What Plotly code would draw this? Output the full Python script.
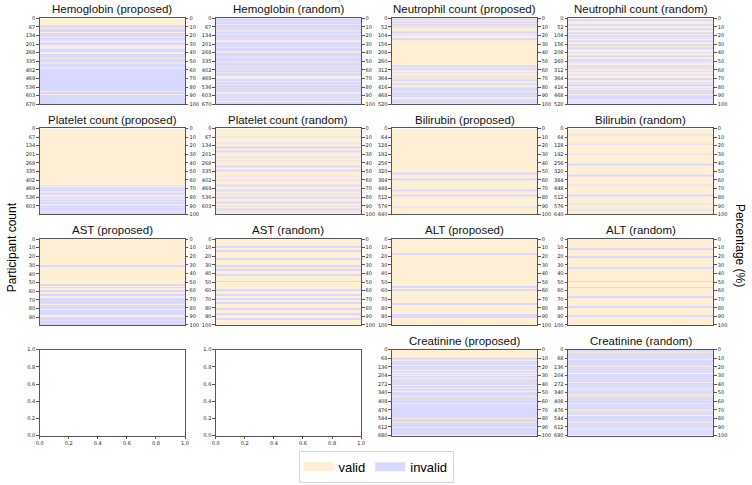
import plotly.graph_objects as go

W, H = 752, 485
VALID_COLOR = "#FFEFD5"
INVALID_COLOR = "#D9D9FF"

# ---- data: panels in grid order (row-major, 4x4) ----
panel_titles = [
    "Hemoglobin (proposed)", "Hemoglobin (random)", "Neutrophil count (proposed)", "Neutrophil count (random)",
    "Platelet count (proposed)", "Platelet count (random)", "Bilirubin (proposed)", "Bilirubin (random)",
    "AST (proposed)", "AST (random)", "ALT (proposed)", "ALT (random)",
    None, None, "Creatinine (proposed)", "Creatinine (random)",
]
participant_counts = [670, 670, 520, 520, 669, 669, 640, 640, 99, 100, 100, 100, None, None, 680, 680]
# base state of each panel; spans (percent of participants) hold the other state
panel_base = ["valid", "invalid", "valid", "valid",
              "valid", "valid", "valid", "valid",
              "valid", "valid", "valid", "valid",
              None, None, "valid", "valid"]

hb_proposed_invalid = [[8.5, 10], [10.8, 11.5], [12.5, 16], [17, 21.5], [22.5, 26], [28, 31.5], [35, 39.5],
                       [41.5, 46], [47, 51.5], [52.5, 57], [58, 84.5], [85.5, 88], [89, 100]]
hb_random_valid = [[3.5, 4.2], [6.5, 7.3], [11.5, 12.3], [14.3, 15], [18.7, 19.4], [23.8, 24.5], [25.5, 27.5],
                   [31.6, 32.3], [33.7, 34.4], [38.3, 40], [44.6, 45.3], [50.6, 51.3], [55.5, 56.2], [58.6, 59.3],
                   [62.8, 63.5], [67.5, 70], [73.3, 74], [76.6, 77.3], [80.6, 81.3], [83.6, 84.3], [86, 87.8],
                   [90.6, 91.3], [93.3, 94], [96.6, 97.3]]
neut_proposed_invalid = [[1, 1.5], [3.5, 5], [7.5, 8.8], [11, 11.6], [15.3, 16.5], [19, 19.5], [23.8, 25],
                         [55.5, 56.3], [59, 60], [63, 64], [66.5, 67.5], [69, 69.7], [72, 72.8], [76, 78],
                         [80.5, 81.5], [83, 84], [86.5, 87.5], [88.5, 89.5], [90.5, 91.5], [94.5, 95.5], [97.5, 98.5]]
neut_random_invalid = [[2.2, 2.8], [8, 9.2], [12.7, 13.3], [17.2, 17.8], [20.7, 21.3], [23.7, 24.3], [26.7, 27.3],
                       [30.5, 31.5], [34.7, 35.3], [39.6, 40.4], [43.7, 44.3], [48.6, 49.4], [51.7, 52.3], [55, 56.2],
                       [58.2, 58.8], [62.2, 62.8], [65.7, 66.3], [70.6, 71.4], [74.7, 75.3], [77.7, 78.3],
                       [81.6, 82.4], [84.7, 85.3], [87.2, 87.8], [90.2, 90.8], [92.6, 93.4], [95.7, 96.3], [98.2, 98.8]]
plt_proposed_invalid = [[67, 67.5], [69.5, 71], [72, 73], [75.5, 77.5], [79.5, 81.5], [83, 84], [85.5, 88.5],
                        [89.3, 92], [93, 93.5], [95, 96.5], [97.5, 100]]
plt_random_invalid = [[9.7, 10.4], [16.7, 17.4], [21.7, 22.4], [26.7, 27.4], [32.7, 33.4], [37.7, 38.4],
                      [43.6, 44.5], [48.7, 49.4], [54.7, 55.4], [59.7, 60.4], [65.7, 66.4], [71.7, 72.4],
                      [75.7, 76.4], [79.8, 81.2], [85.7, 86.4], [89.7, 90.4], [93.7, 94.4], [96.7, 97.4]]
bili_proposed_invalid = [[52, 52.4], [59, 59.4], [72, 72.4], [77.5, 78], [91, 91.5]]
bili_random_invalid = [[7.5, 8], [17.5, 18], [29.5, 30], [41.5, 42], [54.5, 55], [65.5, 66], [77.5, 78],
                       [87.5, 88], [94.5, 95]]
ast_proposed_invalid = [[31, 32], [53, 54], [56, 57], [60, 62], [65, 66], [69, 71], [72, 73], [74, 75], [77, 79],
                        [80, 81], [83, 84], [85, 86], [87, 88], [91, 92], [93, 95], [96, 97], [98, 100]]
ast_random_invalid = [[9, 10], [13, 14], [23, 24], [31, 33], [36, 37], [41, 42], [49, 50], [59, 60], [65, 66],
                      [69, 70], [74, 75], [81, 82], [87, 88], [93, 94]]
alt_proposed_invalid = [[17, 18], [55, 56], [59, 60], [75, 76], [88, 89], [90, 91]]
alt_random_invalid = [[11, 12], [20, 21], [33, 34], [49, 50], [56, 57], [67, 68], [79, 80], [89, 90]]
creat_proposed_invalid = [[10, 11], [13, 14.5], [16, 17], [19, 20.5], [22, 23], [25, 26.5], [28, 29], [30.5, 32],
                          [34, 35], [37, 38], [39.5, 41], [43, 44], [46, 47.5], [49, 50.5], [52, 53], [55, 56],
                          [57.5, 59], [60.5, 62], [63.5, 64.5], [66, 67], [68, 79.5], [80.5, 84.5], [85.5, 90],
                          [91, 100]]
creat_random_invalid = [[1, 2.5], [4, 5], [6.5, 8], [9, 10.5], [12, 13], [14.5, 16], [17, 18.5], [20, 21],
                        [22.5, 24], [25.5, 26.5], [28, 29.5], [31, 32], [33, 34.5], [36, 37.5], [39, 40],
                        [41.5, 43], [44, 45.5], [47, 48], [49.5, 51], [52.5, 53.5], [55, 56.5], [58, 59],
                        [60.5, 62], [63, 64.5], [66, 67], [68.5, 70], [71.5, 72.5], [74, 75.5], [77, 78],
                        [79.5, 81], [82.5, 83.5], [85, 86.5], [88, 89], [90.5, 92], [93.5, 94.5], [96, 97.5],
                        [98.5, 100]]

panel_spans = [hb_proposed_invalid, hb_random_valid, neut_proposed_invalid, neut_random_invalid,
               plt_proposed_invalid, plt_random_invalid, bili_proposed_invalid, bili_random_invalid,
               ast_proposed_invalid, ast_random_invalid, alt_proposed_invalid, alt_random_invalid,
               None, None, creat_proposed_invalid, creat_random_invalid]

percent_ticks = [0, 10, 20, 30, 40, 50, 60, 70, 80, 90, 100]
empty_ticks = [0.0, 0.2, 0.4, 0.6, 0.8, 1.0]

# ---- layout geometry (pixels) ----
col_left = [36, 214, 392, 570]
col_width = 147
row_top = [15.5, 127, 239, 351]
row_height = 87

TICK_FONT = dict(family="DejaVu Sans", size=5, color="#222")
LINE = "#555"


def build_runs(base, spans):
    other = "invalid" if base == "valid" else "valid"
    runs, pos = [], 0.0
    for s, e in spans:
        if s > pos:
            runs.append((pos, s, base))
        runs.append((s, e, other))
        pos = e
    if pos < 100:
        runs.append((pos, 100.0, base))
    return runs


fig = go.Figure()
layout = {}
annotations = []
tick_style = dict(ticks="outside", ticklen=2.5, tickwidth=0.8, tickcolor=LINE, tickfont=TICK_FONT,
                  showgrid=False, zeroline=False, showline=True, linecolor=LINE, linewidth=0.8)

for i in range(16):
    r, c = divmod(i, 4)
    xa = "x" if i == 0 else f"x{i + 1}"
    ya_l_idx = 2 * i + 1
    ya_r_idx = 2 * i + 2
    ya_l = "y" if ya_l_idx == 1 else f"y{ya_l_idx}"
    ya_r = f"y{ya_r_idx}"
    xdom = [col_left[c] / W, (col_left[c] + col_width) / W]
    ydom = [1 - (row_top[r] + row_height) / H, 1 - row_top[r] / H]
    xkey = "xaxis" if i == 0 else f"xaxis{i + 1}"
    ylkey = "yaxis" if ya_l_idx == 1 else f"yaxis{ya_l_idx}"
    yrkey = f"yaxis{ya_r_idx}"

    N = participant_counts[i]
    if N is None:
        fig.add_trace(go.Scatter(x=[0.5], y=[0.5], mode="markers", marker=dict(opacity=0),
                                 hoverinfo="skip", showlegend=False, xaxis=xa, yaxis=ya_l))
        layout[xkey] = dict(domain=xdom, anchor=ya_l, range=[0, 1], tickvals=empty_ticks, tickformat=".1f",
                            mirror=True, **tick_style)
        layout[ylkey] = dict(domain=ydom, anchor=xa, range=[0, 1], tickvals=empty_ticks, tickformat=".1f",
                            mirror=True, **tick_style)
        continue

    runs = build_runs(panel_base[i], panel_spans[i])
    for state, color in (("valid", VALID_COLOR), ("invalid", INVALID_COLOR)):
        sel = [(s, e) for s, e, st in runs if st == state]
        if not sel:
            continue
        fig.add_trace(go.Bar(
            x=[0.5] * len(sel), base=[s * N / 100 for s, e in sel], y=[(e - s) * N / 100 for s, e in sel],
            width=1, marker=dict(color=color, line=dict(width=0)), xaxis=xa, yaxis=ya_l,
            showlegend=False, legendgroup=state, name=state, hoverinfo="skip"))
    fig.add_trace(go.Scatter(x=[0.5], y=[50], mode="markers", marker=dict(opacity=0), hoverinfo="skip",
                             showlegend=False, xaxis=xa, yaxis=ya_r))
    step = round(N / 10)
    count_ticks = list(range(0, N + 1, step))
    layout[xkey] = dict(domain=xdom, anchor=ya_l, range=[0, 1], showticklabels=False, ticks="",
                        showgrid=False, zeroline=False, showline=True, linecolor=LINE, linewidth=0.8,
                        mirror=True)
    layout[ylkey] = dict(domain=ydom, anchor=xa, range=[N, 0], tickvals=count_ticks, **tick_style)
    layout[yrkey] = dict(overlaying=ya_l, anchor=xa, side="right", range=[100, 0], tickvals=percent_ticks,
                         **tick_style)
    annotations.append(dict(text=panel_titles[i], xref="paper", yref="paper",
                            x=(col_left[c] + col_width / 2) / W, y=1 - (row_top[r] - 9) / H,
                            xanchor="center", yanchor="middle", showarrow=False,
                            font=dict(family="Liberation Sans", size=11.5, color="#111")))

# legend entries
for state, color in (("valid", VALID_COLOR), ("invalid", INVALID_COLOR)):
    fig.add_trace(go.Scatter(x=[None], y=[None], mode="lines", line=dict(color=color, width=9),
                             name=state, legendgroup=state, showlegend=True, xaxis="x", yaxis="y"))

annotations.append(dict(text="Participant count", xref="paper", yref="paper", x=8.5 / W, y=1 - 247 / H,
                        textangle=-90, showarrow=False, xanchor="center", yanchor="middle",
                        font=dict(family="Liberation Sans", size=12, color="#000")))
annotations.append(dict(text="Percentage (%)", xref="paper", yref="paper", x=744 / W, y=1 - 245 / H,
                        textangle=90, showarrow=False, xanchor="center", yanchor="middle",
                        font=dict(family="Liberation Sans", size=12, color="#000")))

fig.update_layout(
    width=W, height=H, margin=dict(l=0, r=0, t=0, b=0), paper_bgcolor="white", plot_bgcolor="white",
    barmode="overlay", annotations=annotations,
    legend=dict(orientation="h", x=0.5, xanchor="center", y=1 - 469.5 / H, yanchor="middle",
                font=dict(family="Liberation Sans", size=13, color="#000"), bordercolor="#d6d6d6",
                borderwidth=1, bgcolor="white", itemwidth=30),
    **layout,
)

fig.write_html("out.html")
